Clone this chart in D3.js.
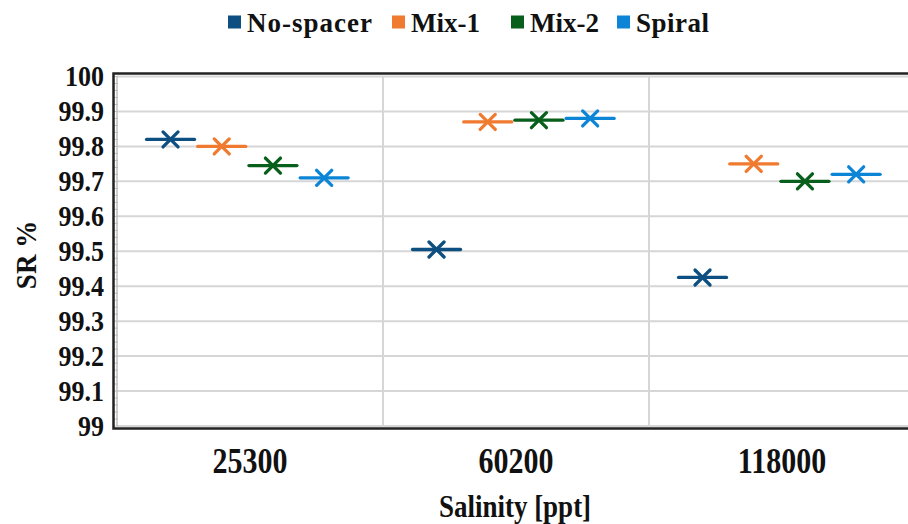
<!DOCTYPE html>
<html>
<head>
<meta charset="utf-8">
<script src="https://cdn.jsdelivr.net/npm/d3@7"></script>
<style>
  html, body { margin: 0; padding: 0; background: #fff; }
  svg { display: block; }
</style>
</head>
<body>
<svg id="chart" width="908" height="524"></svg>
<script>
// Salinity levels (x categories)
const categories = ["25300", "60200", "118000"];
// Spacer types (series)
const seriesNames = ["No-spacer", "Mix-1", "Mix-2", "Spiral"];
const seriesColors = ["#0d4f80", "#f07a2f", "#075f1b", "#0c85d6"];
// Salt rejection, SR %
const noSpacer = [99.82, 99.505, 99.425];
const mix1     = [99.80, 99.87, 99.75];
const mix2     = [99.745, 99.875, 99.70];
const spiral   = [99.71, 99.88, 99.72];
// Y axis ticks
const yTicks = [99, 99.1, 99.2, 99.3, 99.4, 99.5, 99.6, 99.7, 99.8, 99.9, 100];
const yTickLabels = ["99", "99.1", "99.2", "99.3", "99.4", "99.5", "99.6", "99.7", "99.8", "99.9", "100"];

const FONT = "'Liberation Serif', Tinos, 'Times New Roman', 'DejaVu Serif', serif";

const seriesValues = [noSpacer, mix1, mix2, spiral];
const points = [];
seriesNames.forEach((s, i) => {
  categories.forEach((c, j) => points.push({ series: s, cat: c, value: seriesValues[i][j], color: seriesColors[i] }));
});

const svg = d3.select("#chart");
const plot = { left: 117, right: 915, top: 76.5, bottom: 426 };

const x = d3.scaleBand().domain(categories).range([plot.left, plot.right]);
const bw = x.bandwidth();
const xs = d3.scaleBand().domain(seriesNames).range([0.105 * bw, 0.875 * bw]);
const y = d3.scaleLinear().domain([99, 100]).range([plot.bottom, plot.top]);

function styleText(sel, size) {
  sel.style("font-family", FONT).style("font-weight", "bold")
     .style("font-size", size + "px").style("fill", "#111");
}

// horizontal gridlines
svg.append("g").selectAll("line").data(yTicks).join("line")
  .attr("x1", plot.left).attr("x2", plot.right)
  .attr("y1", d => y(d)).attr("y2", d => y(d))
  .attr("stroke", "#d6d6d6").attr("stroke-width", 2);

// vertical category separators
svg.append("g").selectAll("line").data(categories.slice(1)).join("line")
  .attr("x1", d => x(d)).attr("x2", d => x(d))
  .attr("y1", plot.top).attr("y2", plot.bottom)
  .attr("stroke", "#d6d6d6").attr("stroke-width", 2);

// inner light frame on the left
svg.append("line")
  .attr("x1", plot.left).attr("x2", plot.left)
  .attr("y1", plot.top).attr("y2", plot.bottom)
  .attr("stroke", "#d0d0d0").attr("stroke-width", 2);

// minor ticks along the left edge
const minor = d3.range(99, 100.0001, 0.02);
svg.append("g").selectAll("line").data(minor).join("line")
  .attr("x1", plot.left - 3).attr("x2", plot.left + 1)
  .attr("y1", d => y(d)).attr("y2", d => y(d))
  .attr("stroke", "#bdbdbd").attr("stroke-width", 1);

// outer dark frame
const fr = { left: 113.5, top: 73.5, bottom: 428.5 };
svg.append("path")
  .attr("d", `M${908},${fr.top}H${fr.left}V${fr.bottom}H${908}`)
  .attr("fill", "none").attr("stroke", "#222").attr("stroke-width", 2.5);

// y tick labels
const yAxis = d3.axisLeft(y).tickValues(yTicks)
  .tickFormat((d, i) => yTickLabels[i]).tickSize(0).tickPadding(0);
const gy = svg.append("g").attr("transform", `translate(104,0)`).call(yAxis);
gy.select(".domain").remove();
gy.selectAll("text").attr("x", 0).attr("dy", "0.33em")
  .attr("transform", "scale(1,1.1)").call(styleText, 26);

// x tick labels
const xAxis = d3.axisBottom(x).tickSize(0).tickPadding(0);
const gx = svg.append("g").attr("transform", `translate(0,${473})`).call(xAxis);
gx.select(".domain").remove();
gx.selectAll("text").attr("dy", 0).attr("y", 0)
  .attr("transform", "scale(1,1.2)").call(styleText, 30);

// axis titles
svg.append("text").attr("transform", "translate(515,517) scale(1,1.15)").attr("text-anchor", "middle")
  .call(styleText, 27).text("Salinity [ppt]");
svg.append("text").attr("transform", "translate(36,255) rotate(-90) scale(1,1.1)").attr("text-anchor", "middle")
  .call(styleText, 27).text("SR %");

// markers: dash + cross
const half = 24, arm = 7.5;
const mk = svg.append("g").selectAll("g").data(points).join("g")
  .attr("transform", d => `translate(${x(d.cat) + xs(d.series) + xs.bandwidth() / 2},${y(d.value)})`)
  .attr("stroke", d => d.color).attr("stroke-width", 3.3).attr("stroke-linecap", "round");
mk.append("line").attr("x1", -half).attr("x2", half).attr("y1", 0).attr("y2", 0);
mk.append("line").attr("x1", -arm).attr("x2", arm).attr("y1", -arm).attr("y2", arm);
mk.append("line").attr("x1", -arm).attr("x2", arm).attr("y1", arm).attr("y2", -arm);

// legend
const legendX = [228, 392, 511, 617];
const lg = svg.append("g").selectAll("g").data(seriesNames).join("g")
  .attr("transform", (d, i) => `translate(${legendX[i]},22)`);
lg.append("rect").attr("x", 0).attr("y", -6.5).attr("width", 13).attr("height", 13)
  .attr("fill", (d, i) => seriesColors[i]);
lg.append("text").attr("x", 19).attr("y", 9.5).call(styleText, 27)
  .style("letter-spacing", (d, i) => i === 0 ? "1px" : (i === 3 ? "0.5px" : "0px")).text(d => d);
</script>
</body>
</html>
